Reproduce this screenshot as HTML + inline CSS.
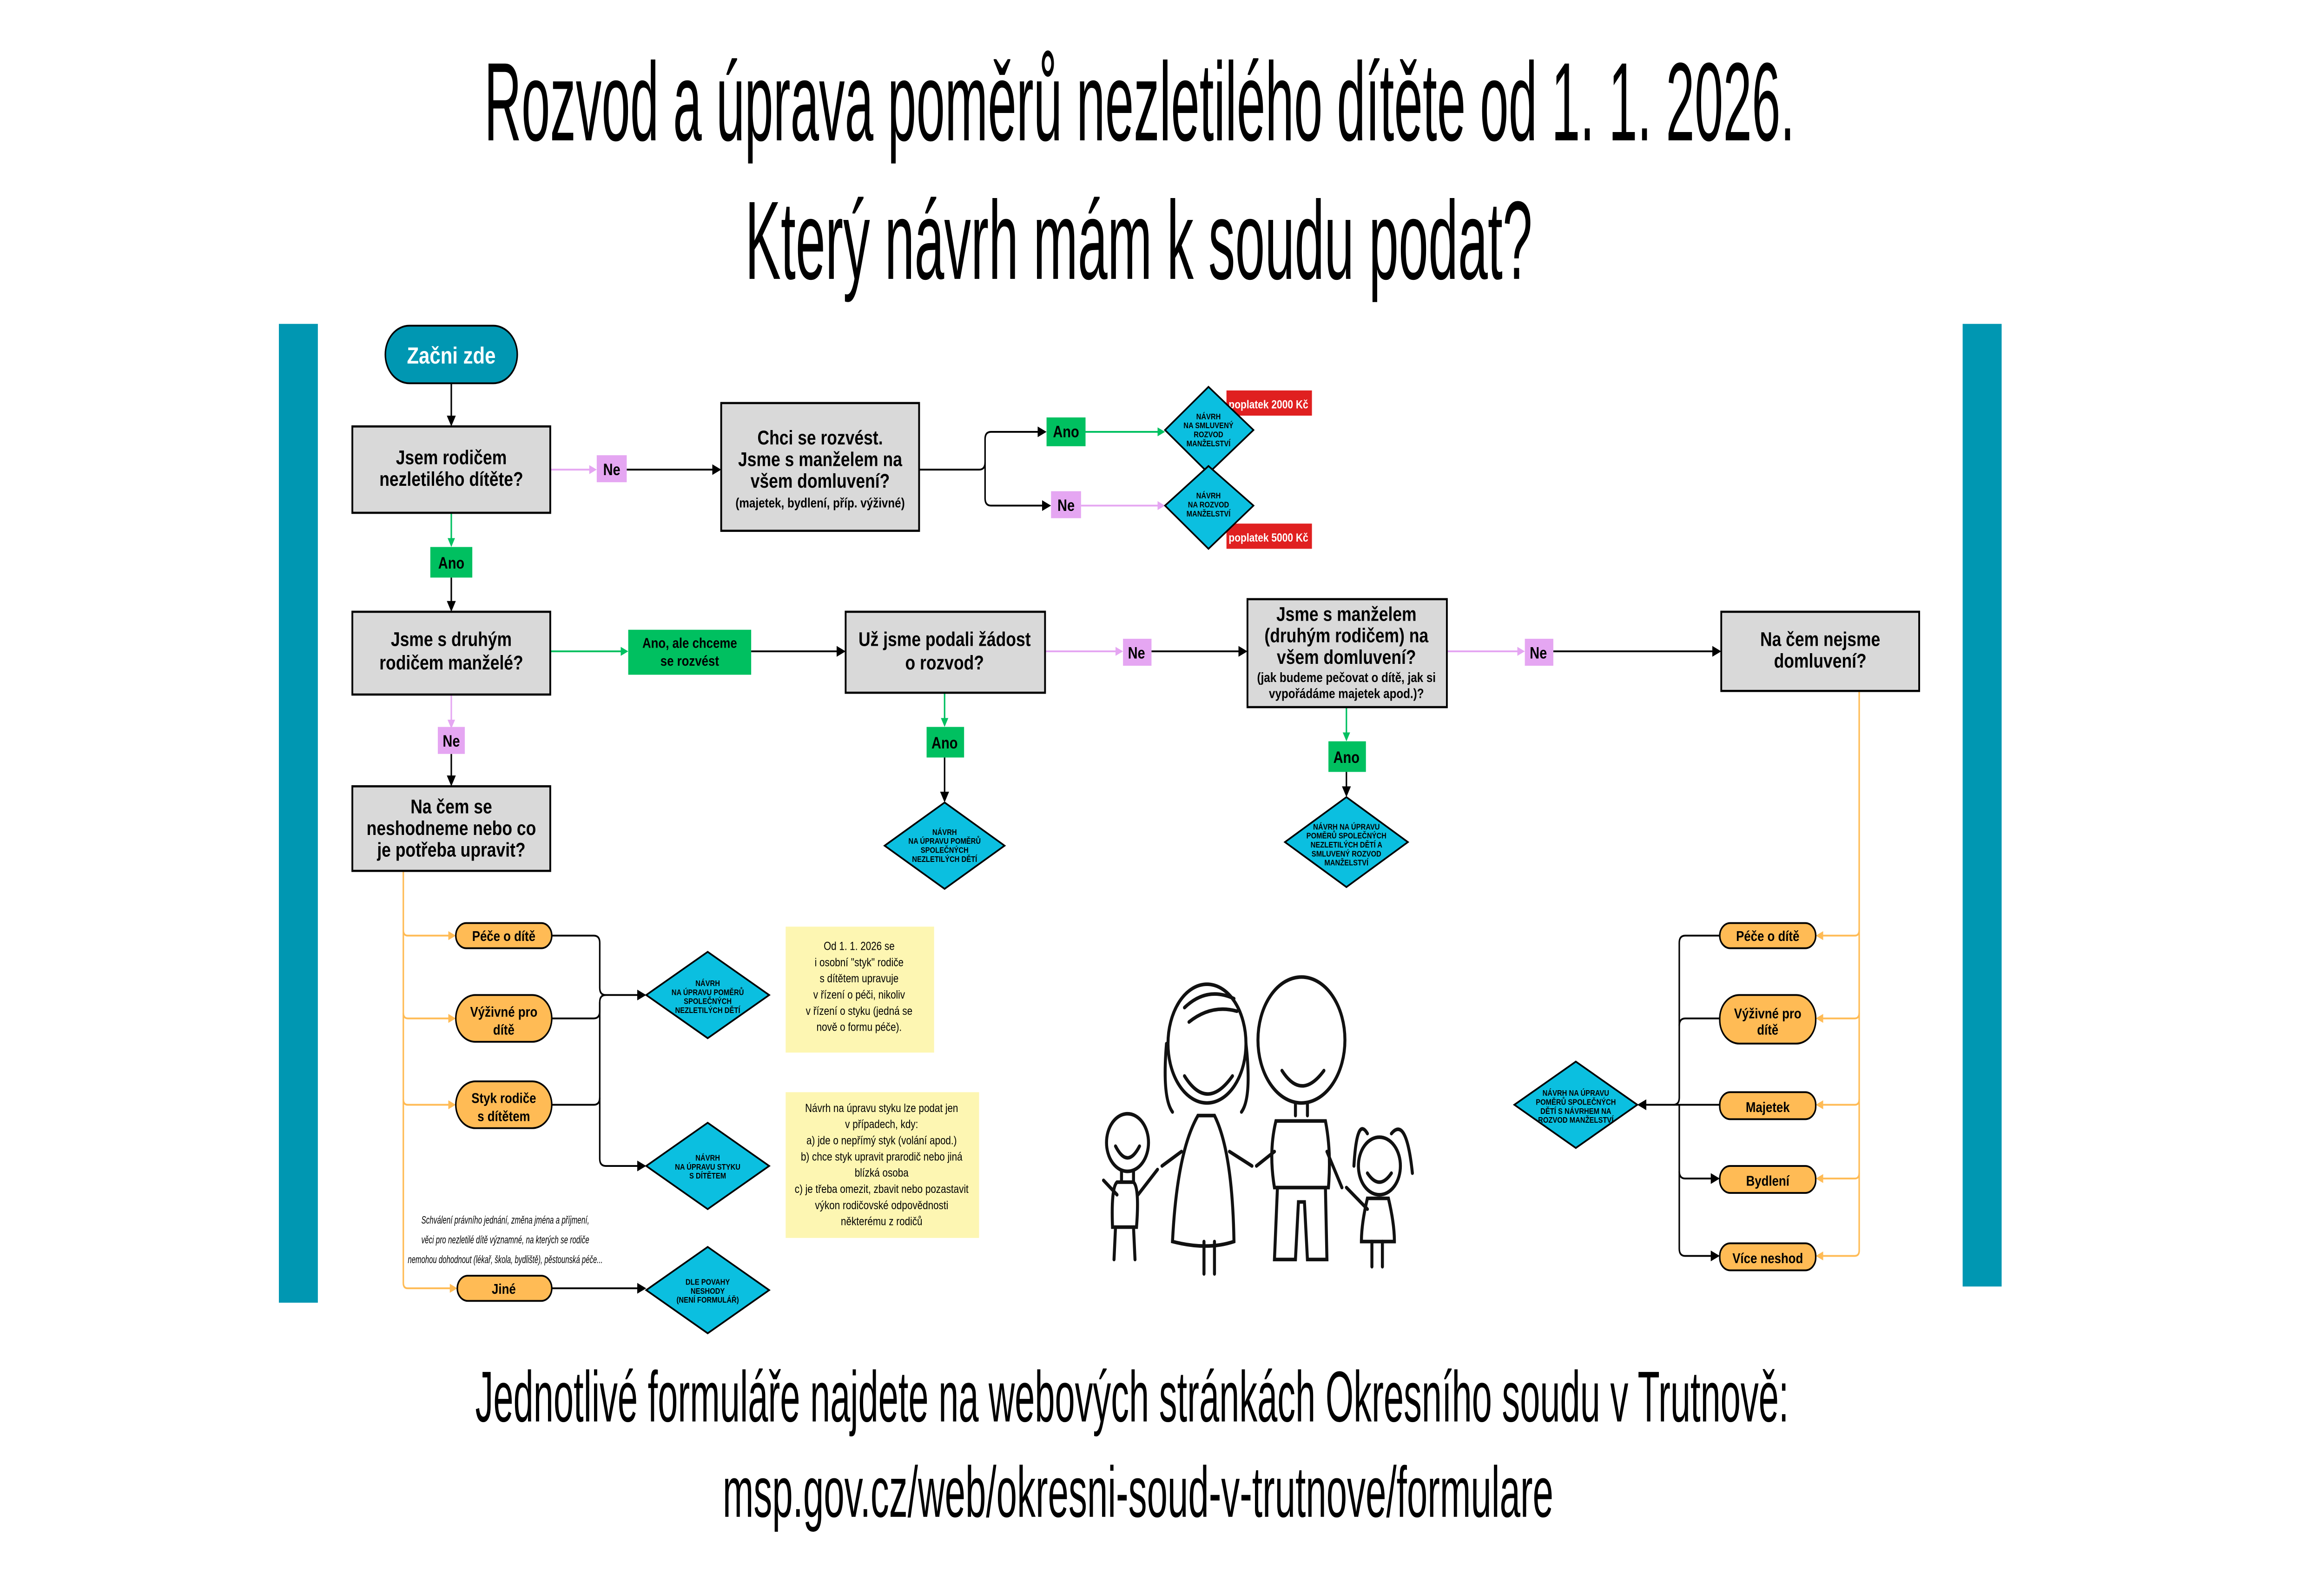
<!DOCTYPE html>
<html><head><meta charset="utf-8"><style>
html,body{margin:0;padding:0;background:#fff;width:100%;height:100%;overflow:hidden;}
svg{display:block;width:100vw;height:100vh;}
text{font-family:"Liberation Sans Narrow","Liberation Sans",sans-serif;}
.b{font-weight:bold}
</style></head><body>
<svg viewBox="0 0 1550 872" preserveAspectRatio="none" xmlns="http://www.w3.org/2000/svg">
<defs>
<marker id="ak" markerWidth="6" markerHeight="6" refX="5" refY="3" orient="auto" markerUnits="userSpaceOnUse"><path d="M0,0 L6,3 L0,6z" fill="#000"/></marker>
<marker id="ag" markerWidth="5" markerHeight="5" refX="4" refY="2.5" orient="auto" markerUnits="userSpaceOnUse"><path d="M0,0 L5,2.5 L0,5z" fill="#00c060"/></marker>
<marker id="ap" markerWidth="5" markerHeight="5" refX="4" refY="2.5" orient="auto" markerUnits="userSpaceOnUse"><path d="M0,0 L5,2.5 L0,5z" fill="#e5a6f2"/></marker>
<marker id="ao" markerWidth="5" markerHeight="5" refX="4" refY="2.5" orient="auto" markerUnits="userSpaceOnUse"><path d="M0,0 L5,2.5 L0,5z" fill="#ffbb55"/></marker>
</defs>
<rect width="1550" height="872" fill="#fff"/>
<!-- titles -->
<text x="323" y="78" font-size="62" textLength="874" lengthAdjust="spacingAndGlyphs">Rozvod a úprava poměrů nezletilého dítěte od 1. 1. 2026.</text>
<text x="497" y="155" font-size="62" textLength="525" lengthAdjust="spacingAndGlyphs">Který návrh mám k soudu podat?</text>
<text x="317" y="790" font-size="40" textLength="876" lengthAdjust="spacingAndGlyphs">Jednotlivé formuláře najdete na webových stránkách Okresního soudu v Trutnově:</text>
<text x="482" y="843" font-size="40" textLength="554" lengthAdjust="spacingAndGlyphs">msp.gov.cz/web/okresni-soud-v-trutnove/formulare</text>
<!-- teal bars -->
<rect x="186" y="180" width="26" height="544" fill="#0097b2"/>
<rect x="1309" y="180" width="26" height="535" fill="#0097b2"/>

<!-- connectors -->
<g fill="none" stroke-width="1">
<line x1="301" y1="213" x2="301" y2="236" stroke="#000" marker-end="url(#ak)"/>
<line x1="367" y1="261" x2="397" y2="261" stroke="#e5a6f2" marker-end="url(#ap)"/>
<line x1="418" y1="261" x2="480" y2="261" stroke="#000" marker-end="url(#ak)"/>
<path d="M613 261 H653 Q657 261 657 257 V244 Q657 240 661 240 H697" stroke="#000" marker-end="url(#ak)"/>
<path d="M657 257 V277 Q657 281 661 281 H700" stroke="#000" marker-end="url(#ak)"/>
<line x1="724" y1="240" x2="776" y2="240" stroke="#00c060" marker-end="url(#ag)"/>
<line x1="721" y1="281" x2="776" y2="281" stroke="#e5a6f2" marker-end="url(#ap)"/>
<line x1="301" y1="285" x2="301" y2="303" stroke="#00c060" marker-end="url(#ag)"/>
<line x1="301" y1="321" x2="301" y2="339" stroke="#000" marker-end="url(#ak)"/>
<line x1="367" y1="362" x2="418" y2="362" stroke="#00c060" marker-end="url(#ag)"/>
<line x1="501" y1="362" x2="563" y2="362" stroke="#000" marker-end="url(#ak)"/>
<line x1="697" y1="362" x2="748" y2="362" stroke="#e5a6f2" marker-end="url(#ap)"/>
<line x1="768" y1="362" x2="831" y2="362" stroke="#000" marker-end="url(#ak)"/>
<line x1="965" y1="362" x2="1016" y2="362" stroke="#e5a6f2" marker-end="url(#ap)"/>
<line x1="1036" y1="362" x2="1147" y2="362" stroke="#000" marker-end="url(#ak)"/>
<line x1="630" y1="385" x2="630" y2="403" stroke="#00c060" marker-end="url(#ag)"/>
<line x1="630" y1="421" x2="630" y2="445" stroke="#000" marker-end="url(#ak)"/>
<line x1="898" y1="393" x2="898" y2="411" stroke="#00c060" marker-end="url(#ag)"/>
<line x1="898" y1="429" x2="898" y2="442" stroke="#000" marker-end="url(#ak)"/>
<line x1="301" y1="386" x2="301" y2="404" stroke="#e5a6f2" marker-end="url(#ap)"/>
<line x1="301" y1="419" x2="301" y2="436" stroke="#000" marker-end="url(#ak)"/>
<path d="M269 484 V713 Q269 716 272 716 H304" stroke="#ffbb55" marker-end="url(#ao)"/>
<path d="M269 517 Q269 520 272 520 H303" stroke="#ffbb55" marker-end="url(#ao)"/>
<path d="M269 563 Q269 566 272 566 H303" stroke="#ffbb55" marker-end="url(#ao)"/>
<path d="M269 611 Q269 614 272 614 H303" stroke="#ffbb55" marker-end="url(#ao)"/>
<path d="M368 520 H396 Q400 520 400 524 V549 Q400 553 404 553 H430" stroke="#000" marker-end="url(#ak)"/>
<path d="M368 566 H396 Q400 566 400 562 V557 Q400 553 404 553" stroke="#000"/>
<path d="M368 614 H396 Q400 614 400 610 V557" stroke="#000"/>
<path d="M400 610 V644 Q400 648 404 648 H430" stroke="#000" marker-end="url(#ak)"/>
<line x1="368" y1="716" x2="430" y2="716" stroke="#000" marker-end="url(#ak)"/>
<path d="M1240 384 V695 Q1240 698 1237 698 H1212" stroke="#ffbb55" marker-end="url(#ao)"/>
<path d="M1240 517 Q1240 520 1237 520 H1212" stroke="#ffbb55" marker-end="url(#ao)"/>
<path d="M1240 563 Q1240 566 1237 566 H1212" stroke="#ffbb55" marker-end="url(#ao)"/>
<path d="M1240 611 Q1240 614 1237 614 H1212" stroke="#ffbb55" marker-end="url(#ao)"/>
<path d="M1240 652 Q1240 655 1237 655 H1212" stroke="#ffbb55" marker-end="url(#ao)"/>
<path d="M1147 520 H1124 Q1120 520 1120 524 V610 Q1120 614 1116 614 H1093" stroke="#000" marker-end="url(#ak)"/>
<path d="M1147 566 H1124 Q1120 566 1120 570" stroke="#000"/>
<line x1="1147" y1="614" x2="1116" y2="614" stroke="#000"/>
<path d="M1120 614 V651 Q1120 655 1124 655 H1146" stroke="#000" marker-end="url(#ak)"/>
<path d="M1120 651 V694 Q1120 698 1124 698 H1146" stroke="#000" marker-end="url(#ak)"/>
</g>

<rect x="257" y="181" width="88" height="32" rx="16" fill="#0097b2" stroke="#000" stroke-width="1"/>
<text x="301" y="202" font-size="13" fill="#fff" text-anchor="middle" class="b">Začni zde</text>

<g fill="#d9d9d9" stroke="#000" stroke-width="1.2">
<rect x="235" y="237" width="132" height="48"/>
<rect x="481" y="224" width="132" height="71"/>
<rect x="235" y="340" width="132" height="46"/>
<rect x="564" y="340" width="133" height="45"/>
<rect x="832" y="333" width="133" height="60"/>
<rect x="1148" y="340" width="132" height="44"/>
<rect x="235" y="437" width="132" height="47"/>
</g>
<g font-size="11" text-anchor="middle" class="b">
<text x="301" y="258">Jsem rodičem</text><text x="301" y="270">nezletilého dítěte?</text>
<text x="547" y="247">Chci se rozvést.</text><text x="547" y="259">Jsme s manželem na</text><text x="547" y="271">všem domluvení?</text>
<text x="547" y="282" font-size="7.5">(majetek, bydlení, příp. výživné)</text>
<text x="301" y="359">Jsme s druhým</text><text x="301" y="372">rodičem manželé?</text>
<text x="630" y="359">Už jsme podali žádost</text><text x="630" y="372">o rozvod?</text>
<text x="898" y="345">Jsme s manželem</text><text x="898" y="357">(druhým rodičem) na</text><text x="898" y="369">všem domluvení?</text>
<text x="898" y="379" font-size="7.5">(jak budeme pečovat o dítě, jak si</text><text x="898" y="388" font-size="7.5">vypořádáme majetek apod.)?</text>
<text x="1214" y="359">Na čem nejsme</text><text x="1214" y="371">domluvení?</text>
<text x="301" y="452">Na čem se</text><text x="301" y="464">neshodneme nebo co</text><text x="301" y="476">je potřeba upravit?</text>
</g>

<g font-size="9" text-anchor="middle" class="b">
<rect x="398" y="253" width="20" height="15" fill="#e5a6f2"/><text x="408" y="264">Ne</text>
<rect x="698" y="232" width="26" height="16" fill="#00c060"/><text x="711" y="243">Ano</text>
<rect x="701" y="273" width="20" height="15" fill="#e5a6f2"/><text x="711" y="284">Ne</text>
<rect x="287" y="304" width="28" height="17" fill="#00c060"/><text x="301" y="316">Ano</text>
<rect x="419" y="350" width="82" height="25" fill="#00c060"/><text x="460" y="360" font-size="8">Ano, ale chceme</text><text x="460" y="370" font-size="8">se rozvést</text>
<rect x="749" y="355" width="19" height="15" fill="#e5a6f2"/><text x="758" y="366">Ne</text>
<rect x="1017" y="355" width="19" height="15" fill="#e5a6f2"/><text x="1026" y="366">Ne</text>
<rect x="618" y="404" width="25" height="17" fill="#00c060"/><text x="630" y="416">Ano</text>
<rect x="886" y="412" width="25" height="17" fill="#00c060"/><text x="898" y="424">Ano</text>
<rect x="292" y="404" width="18" height="15" fill="#e5a6f2"/><text x="301" y="415">Ne</text>
<rect x="818" y="217" width="57" height="14" fill="#e02020"/><text x="846" y="227" fill="#fff" font-size="6.5">poplatek 2000 Kč</text>
<rect x="818" y="291" width="57" height="14" fill="#e02020"/><text x="846" y="301" fill="#fff" font-size="6.5">poplatek 5000 Kč</text>
</g>

<g fill="#0bbfe0" stroke="#000" stroke-width="1">
<polygon points="806,215 836,239 806,263 777,239"/>
<polygon points="806,259 836,281 806,305 777,281"/>
<polygon points="630,446 670,470 630,494 590,470"/>
<polygon points="898,443 939,468 898,493 857,468"/>
<polygon points="472,529 513,553 472,577 431,553"/>
<polygon points="472,624 513,648 472,672 431,648"/>
<polygon points="472,693 513,717 472,741 431,717"/>
<polygon points="1051,590 1092,614 1051,638 1010,614"/>
</g>
<g font-size="4.6" text-anchor="middle" class="b">
<text x="806" y="233">NÁVRH</text><text x="806" y="238">NA SMLUVENÝ</text><text x="806" y="243">ROZVOD</text><text x="806" y="248">MANŽELSTVÍ</text>
<text x="806" y="277">NÁVRH</text><text x="806" y="282">NA ROZVOD</text><text x="806" y="287">MANŽELSTVÍ</text>
<text x="630" y="464">NÁVRH</text><text x="630" y="469">NA ÚPRAVU POMĚRŮ</text><text x="630" y="474">SPOLEČNÝCH</text><text x="630" y="479">NEZLETILÝCH DĚTÍ</text>
<text x="898" y="461">NÁVRH NA ÚPRAVU</text><text x="898" y="466">POMĚRŮ SPOLEČNÝCH</text><text x="898" y="471">NEZLETILÝCH DĚTÍ A</text><text x="898" y="476">SMLUVENÝ ROZVOD</text><text x="898" y="481">MANŽELSTVÍ</text>
<text x="472" y="548">NÁVRH</text><text x="472" y="553">NA ÚPRAVU POMĚRŮ</text><text x="472" y="558">SPOLEČNÝCH</text><text x="472" y="563">NEZLETILÝCH DĚTÍ</text>
<text x="472" y="645">NÁVRH</text><text x="472" y="650">NA ÚPRAVU STYKU</text><text x="472" y="655">S DÍTĚTEM</text>
<text x="472" y="714">DLE POVAHY</text><text x="472" y="719">NESHODY</text><text x="472" y="724">(NENÍ FORMULÁŘ)</text>
<text x="1051" y="609">NÁVRH NA ÚPRAVU</text><text x="1051" y="614">POMĚRŮ SPOLEČNÝCH</text><text x="1051" y="619">DĚTÍ S NÁVRHEM NA</text><text x="1051" y="624">ROZVOD MANŽELSTVÍ</text>
</g>

<g fill="#ffbb55" stroke="#000" stroke-width="1">
<rect x="304" y="513" width="64" height="14" rx="7"/>
<rect x="304" y="553" width="64" height="26" rx="13"/>
<rect x="304" y="601" width="64" height="26" rx="13"/>
<rect x="305" y="709" width="63" height="14" rx="7"/>
<rect x="1147" y="513" width="64" height="14" rx="7"/>
<rect x="1147" y="553" width="64" height="27" rx="13"/>
<rect x="1147" y="607" width="64" height="15" rx="7"/>
<rect x="1147" y="648" width="64" height="15" rx="7"/>
<rect x="1147" y="691" width="64" height="15" rx="7"/>
</g>
<g font-size="8" text-anchor="middle" class="b">
<text x="336" y="523">Péče o dítě</text>
<text x="336" y="565">Výživné pro</text><text x="336" y="575">dítě</text>
<text x="336" y="613">Styk rodiče</text><text x="336" y="623">s dítětem</text>
<text x="336" y="719">Jiné</text>
<text x="1179" y="523">Péče o dítě</text>
<text x="1179" y="566">Výživné pro</text><text x="1179" y="575">dítě</text>
<text x="1179" y="618">Majetek</text>
<text x="1179" y="659">Bydlení</text>
<text x="1179" y="702">Více neshod</text>
</g>

<rect x="524" y="515" width="99" height="70" fill="#fdf6b2"/>
<rect x="524" y="607" width="129" height="81" fill="#fdf6b2"/>
<g font-size="6.4" text-anchor="middle">
<text x="573" y="528">Od 1. 1. 2026 se</text><text x="573" y="537">i osobní "styk" rodiče</text><text x="573" y="546">s dítětem upravuje</text><text x="573" y="555">v řízení o péči, nikoliv</text><text x="573" y="564">v řízení o styku (jedná se</text><text x="573" y="573">nově o formu péče).</text>
<text x="588" y="618">Návrh na úpravu styku lze podat jen</text><text x="588" y="627">v případech, kdy:</text><text x="588" y="636">a) jde o nepřímý styk (volání apod.)</text><text x="588" y="645">b) chce styk upravit prarodič nebo jiná</text><text x="588" y="654">blízká osoba</text><text x="588" y="663">c) je třeba omezit, zbavit nebo pozastavit</text><text x="588" y="672">výkon rodičovské odpovědnosti</text><text x="588" y="681">některému z rodičů</text>
</g>
<g font-size="6" text-anchor="middle" font-style="italic">
<text x="337" y="680" textLength="112" lengthAdjust="spacingAndGlyphs">Schválení právního jednání, změna jména a příjmení,</text>
<text x="337" y="691" textLength="112" lengthAdjust="spacingAndGlyphs">věci pro nezletilé dítě významné, na kterých se rodiče</text>
<text x="337" y="702" textLength="130" lengthAdjust="spacingAndGlyphs">nemohou dohodnout (lékař, škola, bydliště), pěstounská péče...</text>
</g>

<g fill="none" stroke="#111" stroke-width="2" stroke-linecap="round">
<ellipse cx="752" cy="635" rx="14" ry="16"/>
<path d="M744 637 Q752 650 760 637"/>
<path d="M748 651 V657 M756 651 V657 M745 657 Q741 660 742 682 H758 Q760 660 756 657 Z"/>
<path d="M744 682 L743 700 M756 682 L757 700"/>
<path d="M745 664 L736 656 M759 664 L772 650"/>
<ellipse cx="805" cy="580" rx="26" ry="33"/>
<path d="M790 560 Q805 548 823 555 M793 568 Q808 558 825 562"/>
<path d="M790 598 Q805 618 822 598"/>
<path d="M799 620 Q785 640 782 690 Q805 695 823 690 Q822 640 810 620 Z"/>
<path d="M803 690 V708 M810 690 V708"/>
<path d="M788 640 L775 648 M820 640 L835 648"/>
<path d="M778 580 Q775 610 782 618 M831 580 Q835 610 828 618"/>
<ellipse cx="868" cy="578" rx="29" ry="35"/>
<path d="M855 595 Q868 612 883 595"/>
<path d="M864 613 V620 M872 613 V620 M851 623 Q846 640 850 660 H886 Q888 640 884 623 Z"/>
<path d="M852 660 L850 700 H864 L866 668 L870 668 L872 700 H885 L884 660"/>
<path d="M850 640 L838 648 M885 640 L895 660"/>
<ellipse cx="920" cy="648" rx="14" ry="16"/>
<path d="M912 652 Q920 662 928 652"/>
<path d="M912 630 Q905 620 903 648 M928 630 Q938 620 942 652"/>
<path d="M912 666 Q908 680 908 690 H930 Q930 680 926 666 Z"/>
<path d="M915 690 V704 M922 690 V704"/>
<path d="M912 672 L898 660"/>
</g>
</svg>
</body></html>
